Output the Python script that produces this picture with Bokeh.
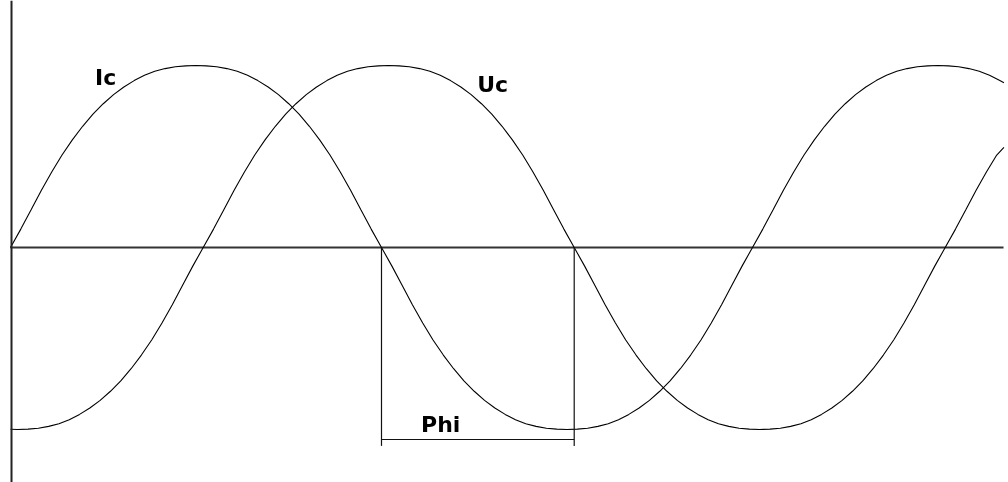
from bokeh.plotting import figure
from bokeh.models import Range1d, Span, InlineStyleSheet
from bokeh.core.properties import value
from bokeh.embed import file_html
from bokeh.resources import INLINE

# phase angle in degrees (x) and normalised amplitude (y)
ic_deg = list(range(0, 485, 5))[:97] + [482]
ic_val = [0, .101, .207, .315, .415, .508, .591, .666, .733, .790, .840, .882, .917, .946, .968, .983, .993, .998, 1.0,
          .998, .993, .983, .968, .946, .917, .882, .840, .790, .733, .666, .591, .508, .415, .315, .207, .101, 0,
          -.101, -.207, -.315, -.415, -.508, -.591, -.666, -.733, -.790, -.840, -.882, -.917, -.946, -.968, -.983, -.993, -.998, -1.0,
          -.998, -.993, -.983, -.968, -.946, -.917, -.882, -.840, -.790, -.733, -.666, -.591, -.508, -.415, -.315, -.207, -.101, 0,
          .101, .207, .315, .415, .508, .591, .666, .733, .790, .840, .882, .917, .946, .968, .983, .993, .998, 1.0,
          .998, .993, .983, .968, .946, .917,
          .905]

uc_deg = [0] + [3.5 + 5 * k for k in range(96)] + [482]
uc_val = [-.999,
          -1.0, -.998, -.993, -.983, -.968, -.946, -.917, -.882, -.840, -.790, -.733, -.666, -.591, -.508, -.415, -.315, -.207, -.101, 0,
          .101, .207, .315, .415, .508, .591, .666, .733, .790, .840, .882, .917, .946, .968, .983, .993, .998, 1.0,
          .998, .993, .983, .968, .946, .917, .882, .840, .790, .733, .666, .591, .508, .415, .315, .207, .101, 0,
          -.101, -.207, -.315, -.415, -.508, -.591, -.666, -.733, -.790, -.840, -.882, -.917, -.946, -.968, -.983, -.993, -.998, -1.0,
          -.998, -.993, -.983, -.968, -.946, -.917, -.882, -.840, -.790, -.733, -.666, -.591, -.508, -.415, -.315, -.207, -.101, 0,
          .101, .207, .315, .415, .508,
          .55]

# phase marker: Ic zero crossing and Uc zero crossing (degrees)
phi_start = 180.0
phi_end = 273.5

labels = ["Ic", "Uc", "Phi"]
label_x = [41.0, 226.4, 199.2]
label_y = [0.935, 0.895, -0.975]

css = InlineStyleSheet(css=":host { position: fixed !important; left: 0px !important; top: 0px !important; }")

p = figure(width=1008, height=482, output_backend="svg", toolbar_location=None,
           x_range=Range1d(-4.852, 484.21), y_range=Range1d(-1.2912, 1.3571),
           x_axis_type=None, y_axis_type=None, min_border=0,
           background_fill_color="white", border_fill_color="white",
           outline_line_color=None, stylesheets=[css])
p.grid.visible = False

# axes
p.add_layout(Span(location=0.49, dimension="height", line_color="#222222", line_width=2))
p.segment(x0=[0], y0=[0], x1=[481.8], y1=[0], line_color="#333333", line_width=2)

# curves
p.line(ic_deg, ic_val, line_color="black", line_width=1.1)
p.line(uc_deg, uc_val, line_color="black", line_width=1.1)

# phi bracket
p.segment(x0=[phi_start, phi_end, phi_start], y0=[0, 0, -1.055],
          x1=[phi_start, phi_end, phi_end], y1=[-1.09, -1.09, -1.055],
          line_color="#111111", line_width=1.2)

p.text(x=label_x, y=label_y, text=labels, text_font=value("DejaVu Sans"),
       text_font_style="bold", text_font_size="22px", text_color="black",
       text_baseline="alphabetic", text_align="left")

open("out.html", "w").write(file_html(p, INLINE))
